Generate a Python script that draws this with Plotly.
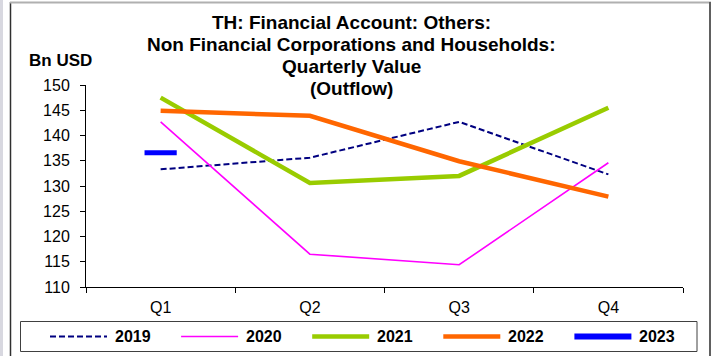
import plotly.graph_objects as go

# Quarterly outflow, Bn USD
quarters = ["Q1", "Q2", "Q3", "Q4"]
years = ["2019", "2020", "2021", "2022", "2023"]
v2019 = [133.3, 135.6, 142.7, 132.3]
v2020 = [142.7, 116.5, 114.4, 134.6]
v2021 = [147.5, 130.6, 132.0, 145.5]
v2022 = [144.9, 143.9, 134.9, 127.9]
v2023 = [136.6, None, None, None]
y_ticks = [110, 115, 120, 125, 130, 135, 140, 145, 150]
title_lines = [
    "TH: Financial Account: Others:",
    "Non Financial Corporations and Households:",
    "Quarterly Value",
    "(Outflow)",
]
y_title = "Bn USD"

W, H = 712, 356
L, R, T, B = 86, 683, 85, 287  # plot area in pixels
FONT = "Liberation Sans, Arial, sans-serif"

def px_x(x):
    return (x - L) / (R - L)

def px_y(y):
    return (B - y) / (B - T)

styles = {
    "2019": dict(color="#000080", width=2, dash="6px,3px"),
    "2020": dict(color="#FF00FF", width=1.6, dash="solid"),
    "2021": dict(color="#99CC00", width=4.5, dash="solid"),
    "2022": dict(color="#FF6600", width=4.5, dash="solid"),
    "2023": dict(color="#0000FF", width=5, dash="solid"),
}
series = dict(zip(years, [v2019, v2020, v2021, v2022, v2023]))

fig = go.Figure()
for yr in years[:4]:
    fig.add_trace(go.Scatter(
        x=quarters, y=series[yr], mode="lines", name=yr,
        line=dict(color=styles[yr]["color"], width=styles[yr]["width"],
                  dash=styles[yr]["dash"]),
        showlegend=False,
    ))
# single-quarter series shown as a horizontal dash marker
fig.add_trace(go.Scatter(
    x=quarters, y=v2023, mode="markers", name="2023",
    marker=dict(symbol="line-ew", size=23,
                line=dict(color=styles["2023"]["color"], width=5)),
    showlegend=False,
))

shapes = []
annotations = []

# outer frame
shapes.append(dict(type="rect", xref="paper", yref="paper",
                   x0=px_x(0), x1=px_x(3), y0=px_y(H), y1=px_y(0),
                   fillcolor="#D8D8E0", line=dict(width=0), layer="below"))
shapes.append(dict(type="line", xref="paper", yref="paper",
                   x0=px_x(10.5), x1=px_x(10.5), y0=px_y(H), y1=px_y(2),
                   line=dict(color="#303030", width=1.5)))
shapes.append(dict(type="line", xref="paper", yref="paper",
                   x0=px_x(10), x1=px_x(711), y0=px_y(2.5), y1=px_y(2.5),
                   line=dict(color="#B0B0B0", width=2)))
shapes.append(dict(type="line", xref="paper", yref="paper",
                   x0=px_x(710), x1=px_x(710), y0=px_y(H), y1=px_y(2),
                   line=dict(color="#606060", width=2)))

# legend box and entries
shapes.append(dict(type="rect", xref="paper", yref="paper",
                   x0=px_x(20.5), x1=px_x(697), y0=px_y(351.5), y1=px_y(321.5),
                   line=dict(color="#404040", width=1), fillcolor="rgba(0,0,0,0)"))
ly = 336.5
for i, yr in enumerate(years):
    x0 = 50 + 131.1 * i
    st = styles[yr]
    w = st["width"] if yr != "2023" else 6
    shapes.append(dict(type="line", xref="paper", yref="paper",
                       x0=px_x(x0), x1=px_x(x0 + 57), y0=px_y(ly), y1=px_y(ly),
                       line=dict(color=st["color"], width=w, dash=st["dash"])))
    annotations.append(dict(text="<b>%s</b>" % yr, xref="paper", yref="paper",
                            x=px_x(x0 + 63), y=px_y(ly), xanchor="left",
                            yanchor="middle", showarrow=False,
                            font=dict(family=FONT, size=16, color="black")))

# title lines
for i, line in enumerate(title_lines):
    annotations.append(dict(text="<b>%s</b>" % line, xref="paper", yref="paper",
                            x=px_x(351), y=px_y(22.7 + 21.8 * i),
                            xanchor="center", yanchor="middle", showarrow=False,
                            font=dict(family=FONT, size=19, color="black")))

annotations.append(dict(text="<b>%s</b>" % y_title, xref="paper", yref="paper",
                        x=px_x(60), y=px_y(61), xanchor="center",
                        yanchor="middle", showarrow=False,
                        font=dict(family=FONT, size=17, color="black")))

fig.update_layout(
    width=W, height=H,
    margin=dict(l=L, r=W - R, t=T, b=H - B, pad=0),
    paper_bgcolor="white", plot_bgcolor="white",
    font=dict(family=FONT, size=16, color="black"),
    shapes=shapes, annotations=annotations,
    showlegend=False,
)
fig.update_xaxes(
    type="category", categoryorder="array", categoryarray=quarters,
    range=[-0.5, 3.5], showgrid=False, zeroline=False,
    showline=True, linecolor="black", linewidth=1,
    ticks="outside", ticklen=5, tickcolor="black", tickson="boundaries",
    ticklabelstandoff=6, tickfont=dict(size=16),
)
fig.update_yaxes(
    range=[110, 150], tickvals=y_ticks, showgrid=False, zeroline=False,
    showline=True, linecolor="black", linewidth=1,
    ticks="outside", ticklen=5, tickcolor="black",
    ticklabelstandoff=7, tickfont=dict(size=16),
)

fig.write_html("out.html")
